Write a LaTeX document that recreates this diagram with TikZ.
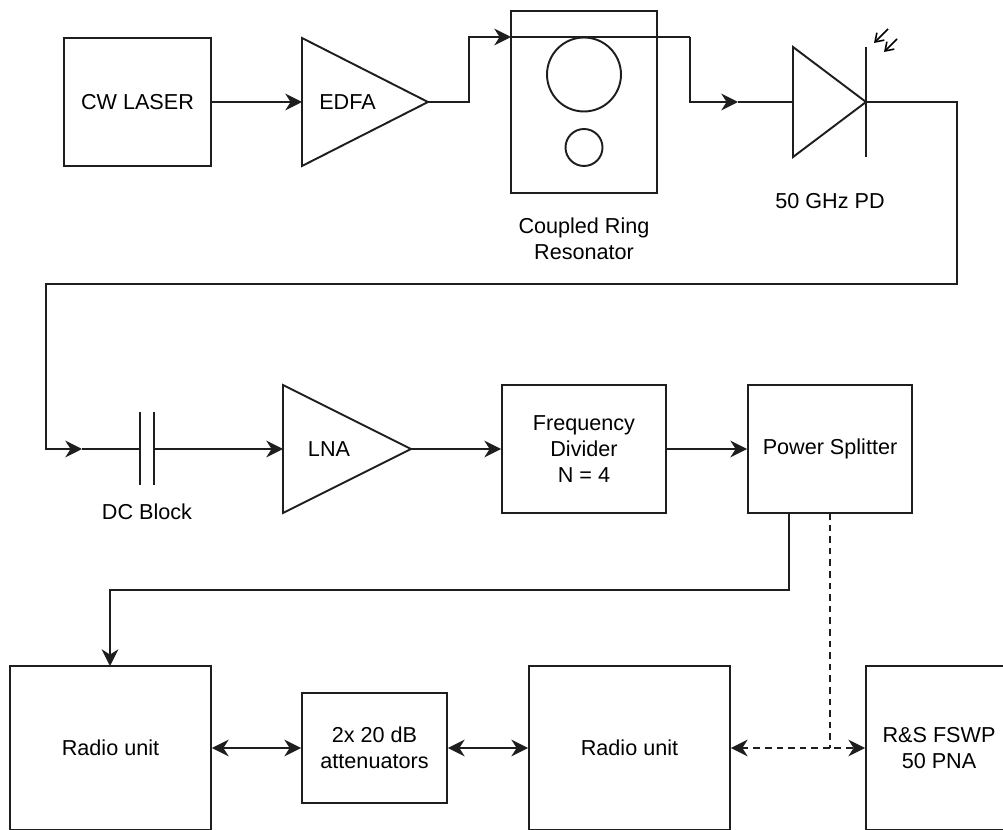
\documentclass[tikz,border=0pt]{standalone}
\usepackage{fontspec}
\setmainfont{Liberation Sans}
\usepackage{tikz}
\usetikzlibrary{arrows.meta}
\definecolor{wireblack}{RGB}{30,30,30}

\tikzset{
    blockbox/.style={draw=wireblack, line width=1.1pt, inner sep=0pt, align=center},
    ringshape/.style={draw=wireblack, line width=1.1pt, circle, inner sep=0pt},
    plaintext/.style={inner sep=0pt, align=center},
    wire/.style={draw=wireblack, line width=1.1pt},
    sig/.style={wire, -{Stealth[length=9.5pt,width=9.5pt,inset=3pt]}},
    sigboth/.style={wire, {Stealth[length=9.5pt,width=9.5pt,inset=3pt]}-{Stealth[length=9.5pt,width=9.5pt,inset=3pt]}},
    dashwire/.style={dash pattern=on 3.8pt off 2.8pt},
    photon/.style={draw=black, line width=0.9pt, -{Straight Barb[length=4.5pt,width=6pt]}}
}

\begin{document}
\begin{tikzpicture}[x=0.02cm, y=-0.02cm, font=\fontsize{12.3pt}{14.7pt}\selectfont]
    \useasboundingbox (0,0) rectangle (1003,830);

    % Top row
    \node[blockbox, minimum width=2.94cm, minimum height=2.56cm] (laser) at (137.5,102) {CW LASER};
    \coordinate (edfaA) at (302,38);
    \coordinate (edfaB) at (302,166);
    \coordinate (edfaC) at (428,102);
    \coordinate (edfaIn) at (302,102);
    \draw[wire] (edfaA) -- (edfaC) -- (edfaB) -- cycle;
    \node[plaintext] (edfa) at (347.5,102) {EDFA};
    \draw[sig] (laser) -- (edfaIn);

    % Ring resonator
    \node[blockbox, minimum width=2.92cm, minimum height=3.64cm] (ringbox) at (584,102) {};
    \node[ringshape, minimum size=1.48cm] (ringbig) at (584,74.5) {};
    \node[ringshape, minimum size=0.74cm] (ringsmall) at (584,147.5) {};
    \node[plaintext] (ringtext) at (584,239) {Coupled Ring\\Resonator};
    \coordinate (ringin) at (511,37);
    \coordinate (ringout) at (690,37);
    \draw[sig] (edfaC) -- (469,102) -- (469,37) -- (ringin);
    \draw[wire] (ringin) -- (ringout);

    % Photodiode
    \coordinate (pdA) at (793,47);
    \coordinate (pdB) at (793,157);
    \coordinate (pdC) at (866,102);
    \coordinate (pdIn) at (793,102);
    \coordinate (pdbarA) at (866,47);
    \coordinate (pdbarB) at (866,157);
    \coordinate (feedin) at (738,102);
    \draw[wire] (pdA) -- (pdC) -- (pdB) -- cycle;
    \draw[wire] (pdbarA) -- (pdbarB);
    \node[plaintext] (pdtext) at (830,201) {50 GHz PD};
    \draw[photon] (888,29) -- (874,43);
    \draw[photon] (897,39) -- (884,52);
    \draw[sig] (ringout) -- (690,102) -- (feedin);
    \draw[wire] (feedin) -- (pdIn);

    % Middle row
    \coordinate (capA) at (140,412);
    \coordinate (capB) at (140,485);
    \coordinate (capC) at (154,412);
    \coordinate (capD) at (154,485);
    \coordinate (capL) at (140,449);
    \coordinate (capR) at (154,449);
    \coordinate (capin) at (82,449);
    \draw[wire] (capA) -- (capB);
    \draw[wire] (capC) -- (capD);
    \node[plaintext] (captext) at (147,512) {DC Block};
    \draw[sig] (pdC) -- (957,102) -- (957,284) -- (46,284) -- (46,449) -- (capin);
    \draw[wire] (capin) -- (capL);

    \coordinate (lnaA) at (283,385);
    \coordinate (lnaB) at (283,513);
    \coordinate (lnaC) at (411,449);
    \coordinate (lnaIn) at (283,449);
    \draw[wire] (lnaA) -- (lnaC) -- (lnaB) -- cycle;
    \node[plaintext] (lna) at (329,449) {LNA};
    \draw[sig] (capR) -- (lnaIn);

    \node[blockbox, minimum width=3.28cm, minimum height=2.56cm] (divider) at (584,449) {Frequency\\Divider\\N = 4};
    \node[blockbox, minimum width=3.28cm, minimum height=2.56cm] (splitter) at (830,449) {Power Splitter};
    \draw[sig] (lnaC) -- (divider);
    \draw[sig] (divider) -- (splitter);

    % Bottom row
    \node[blockbox, minimum width=4.02cm, minimum height=3.28cm] (radioA) at (110.5,748) {Radio unit};
    \node[blockbox, minimum width=2.9cm, minimum height=2.2cm] (atten) at (374.5,748) {2x 20 dB\\attenuators};
    \node[blockbox, minimum width=4.02cm, minimum height=3.28cm] (radioB) at (629.5,748) {Radio unit};
    \node[blockbox, minimum width=2.92cm, minimum height=3.28cm] (fswp) at (939,748) {R\&S FSWP\\50 PNA};

    \coordinate (splitA) at (789,513);
    \coordinate (splitB) at (830,513);
    \coordinate (radioIn) at (110,666);
    \coordinate (dashjoin) at (830,748);
    \draw[sig] (splitA) -- (789,590) -- (110,590) -- (radioIn);
    \draw[sigboth] (radioA) -- (atten);
    \draw[sigboth] (atten) -- (radioB);
    \draw[sigboth, dashwire] (radioB) -- (fswp);
    \draw[wire, dashwire] (splitB) -- (dashjoin);
\end{tikzpicture}
\end{document}
